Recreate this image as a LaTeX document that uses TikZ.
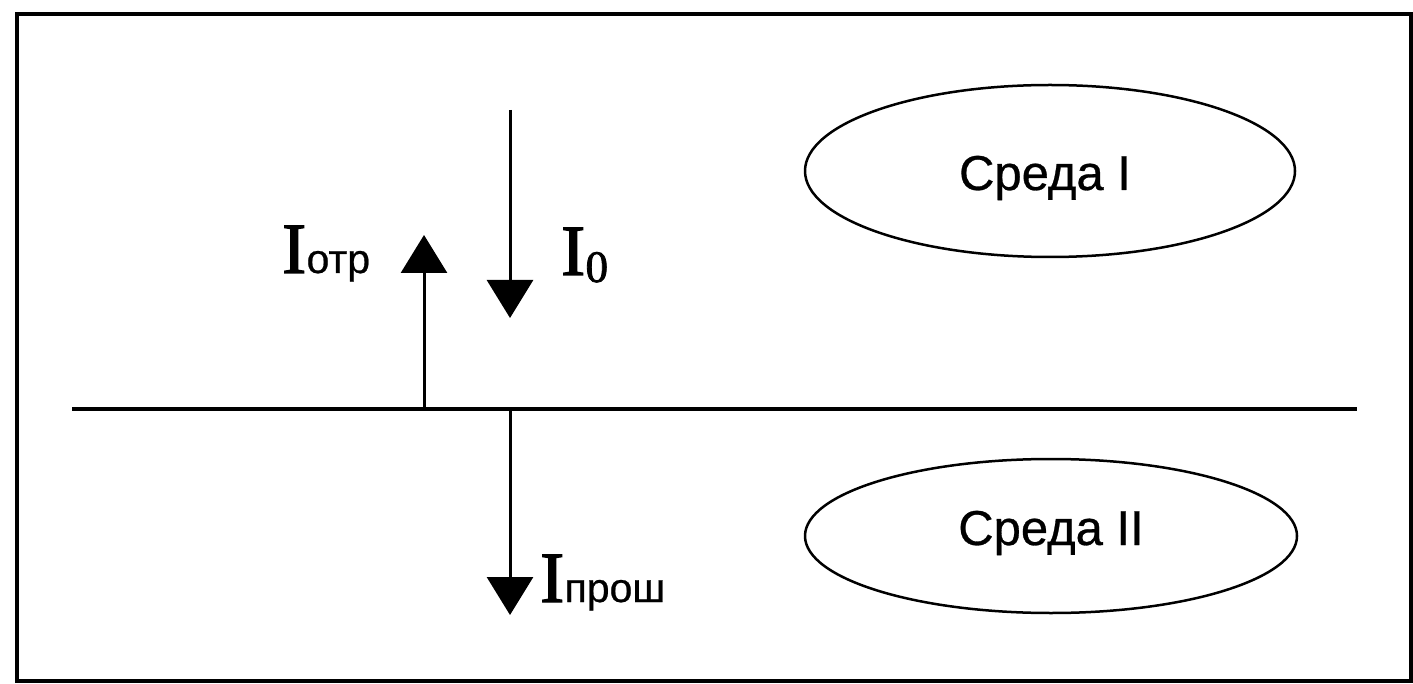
\documentclass[tikz,border=0pt]{standalone}
\usepackage{fontspec}
\setmainfont{Liberation Serif}
\newfontfamily\arialf[FakeBold=0.6]{Liberation Sans}
\newfontfamily\serifb[FakeBold=1.8]{Liberation Serif}
\usetikzlibrary{arrows.meta,shapes.geometric}
\begin{document}
\begin{tikzpicture}[x=1pt,y=-1pt,
  frame/.style={line width=4pt},
  iface/.style={line width=3.5pt},
  ray/.style={line width=3pt,-{Triangle[width=46pt,length=38pt]}},
  medium/.style={draw,ellipse,line width=2.5pt,inner sep=0pt},
  mtext/.style={font=\arialf\fontsize{49}{55}\selectfont,inner sep=0pt,anchor=base},
  bigI/.style={font=\serifb\fontsize{72}{80}\selectfont,inner sep=0pt,anchor=base west},
  subs/.style={font=\arialf\fontsize{41}{46}\selectfont,inner sep=0pt,anchor=base west},
  subn/.style={font=\serifb\fontsize{45}{50}\selectfont,inner sep=0pt,anchor=base west}]
\useasboundingbox (0,0) rectangle (1413,684);
\draw[frame] (17,14) rectangle (1411,681);
% interface
\coordinate (L) at (72,409);
\coordinate (R) at (1357,409);
\draw[iface] (L) -- (R);
% rays
\coordinate (i0s) at (510,110);
\coordinate (i0e) at (510,318);
\coordinate (rs) at (424,409);
\coordinate (re) at (424,235);
\coordinate (ts) at (510,409);
\coordinate (te) at (510,615);
\draw[ray] (i0s) -- (i0e);
\draw[ray] (rs) -- (re);
\draw[ray] (ts) -- (te);
% labels
\node[bigI] (Iotr) at (282,273) {I};
\node[subs] (otr) at (Iotr.base east) {отр};
\node[bigI] (I0) at (561,275) {I};
\node[subn] (n0) at ([yshift=-7pt]I0.base east) {0};
\node[bigI] (Ipr) at (540,602) {I};
\node[subs] (prosh) at (Ipr.base east) {прош};
% media
\node[medium,minimum width=490pt,minimum height=172pt] (e1) at (1050,171) {};
\node[mtext] (t1) at (1045,190) {Среда I};
\node[medium,minimum width=492pt,minimum height=154pt] (e2) at (1051,536) {};
\node[mtext] (t2) at (1051,545) {Среда II};
\end{tikzpicture}
\end{document}
